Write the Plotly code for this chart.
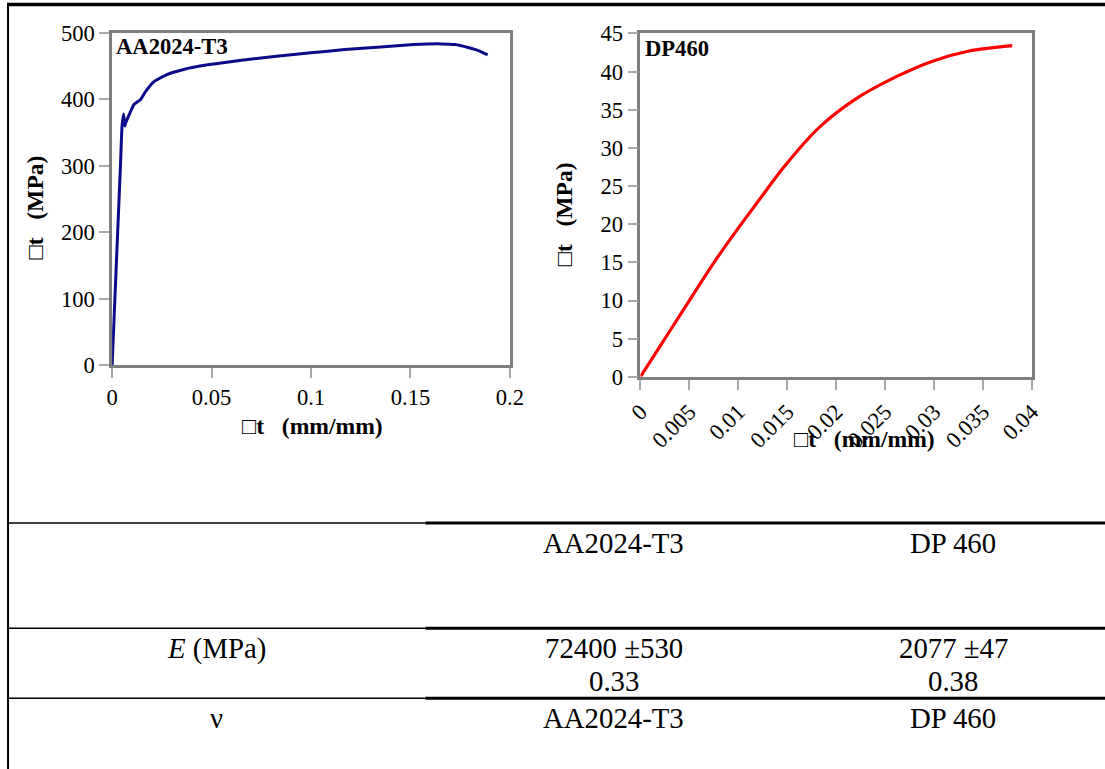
import plotly.graph_objects as go

# The photographed page shows the figure shrunk slightly and offset; these
# constants map target screen pixels back to figure pixels.
SX, SY = 0.979, 0.967
OX, OY = 12.0, 11.6
W = int(round((1105 - OX) / SX)) + 2
H = int(round((769 - OY) / SY)) + 2
FS = 1.0 / 0.973  # font compensation

# ---------------- data ----------------
aa_strain = [0, 0.0014, 0.0028, 0.0042, 0.0050, 0.0058, 0.0064, 0.0070, 0.0086, 0.0109,
             0.0143, 0.0169, 0.0212, 0.0273, 0.0359, 0.048, 0.065, 0.0826, 0.100, 0.117,
             0.135, 0.1516, 0.1655, 0.1724, 0.179, 0.1845, 0.1888]
aa_stress = [0, 100, 200, 300, 360, 378, 360, 366, 377, 392,
             400, 412, 427, 437, 445, 452, 459, 465, 470, 475,
             479, 482.5, 483.5, 482.5, 478, 473, 467]

dp_strain = [0, 0.002, 0.004, 0.0058, 0.00758, 0.00978, 0.01198, 0.01454, 0.0182,
             0.02187, 0.02626, 0.02993, 0.0336, 0.038]
dp_stress = [0, 4.0, 8.0, 11.6, 15.1, 19.1, 22.9, 27.3, 32.6,
             36.3, 39.4, 41.4, 42.7, 43.4]

aa_xticks = [0, 0.05, 0.1, 0.15, 0.2]
aa_xticklabels = ["0", "0.05", "0.1", "0.15", "0.2"]
aa_yticks = [0, 100, 200, 300, 400, 500]
dp_xticks = [0, 0.005, 0.01, 0.015, 0.02, 0.025, 0.03, 0.035, 0.04]
dp_xticklabels = ["0", "0.005", "0.01", "0.015", "0.02", "0.025", "0.03", "0.035", "0.04"]
dp_yticks = [0, 5, 10, 15, 20, 25, 30, 35, 40, 45]

label_aa = "AA2024-T3"
label_dp = "DP460"
ytitle = "\u25a1t\u00a0\u00a0 (MPa)"
xtitle = "\u25a1t\u00a0\u00a0 (mm/mm)"

table_header = ["", "AA2024-T3", "DP 460"]
table_row_e = ["<i>E</i> (MPa)", "72400 \u00b1530", "2077 \u00b147"]
table_row_e2 = ["", "0.33", "0.38"]
table_row_nu = ["\u03bd", "AA2024-T3", "DP 460"]

# ---------------- helpers (target screen pixels -> paper) ----------------
def px(x):
    return ((x - OX) / SX) / W

def py(y):
    return 1 - ((y - OY) / SY) / H

def fs(s):
    return round(s * FS, 1)

SERIF = "Liberation Serif"

fig = go.Figure()
fig.add_trace(go.Scatter(x=aa_strain, y=aa_stress, mode="lines",
                         line=dict(color="#0b0b8a", width=3, shape="spline", smoothing=0.4),
                         xaxis="x", yaxis="y", showlegend=False, hoverinfo="skip"))
fig.add_trace(go.Scatter(x=dp_strain, y=dp_stress, mode="lines",
                         line=dict(color="#ff0000", width=3.2, shape="spline", smoothing=0.8),
                         xaxis="x2", yaxis="y2", showlegend=False, hoverinfo="skip"))

axis_common = dict(showline=True, mirror=True, linecolor="#7f7f7f", linewidth=2.5,
                   showgrid=False, zeroline=False, ticks="outside", ticklen=10,
                   tickwidth=1.5, tickcolor="#a8a8a8",
                   tickfont=dict(family=SERIF, size=fs(22), color="black"))

fig.update_layout(
    width=W, height=H,
    margin=dict(l=0, r=0, t=0, b=0),
    paper_bgcolor="white", plot_bgcolor="white",
    font=dict(family=SERIF, color="black"),
    xaxis=dict(domain=[px(110.5), px(510)], range=[0, 0.2], anchor="y",
               tickvals=aa_xticks, ticktext=aa_xticklabels, **axis_common),
    yaxis=dict(domain=[py(364.5), py(32.5)], range=[0, 500], anchor="x",
               tickvals=aa_yticks, **axis_common),
    xaxis2=dict(domain=[px(641), px(1034)], range=[0, 0.04], anchor="y2",
                tickvals=dp_xticks, ticktext=dp_xticklabels, tickangle=-45, **axis_common),
    yaxis2=dict(domain=[py(376), py(33)], range=[0, 45], anchor="x2",
                tickvals=dp_yticks, **axis_common),
)

ann = []
bold_font = dict(family=SERIF, size=fs(23), color="black")
ann.append(dict(x=px(112), y=py(32), xref="paper", yref="paper", xanchor="left", yanchor="top",
                text="<b>%s</b>" % label_aa, showarrow=False, font=dict(family=SERIF, size=fs(22), color="black")))
ann.append(dict(x=px(644), y=py(34), xref="paper", yref="paper", xanchor="left", yanchor="top",
                text="<b>%s</b>" % label_dp, showarrow=False, font=dict(family=SERIF, size=fs(22), color="black")))
ann.append(dict(x=px(33), y=py(207), xref="paper", yref="paper", xanchor="center", yanchor="middle",
                text="<b>%s</b>" % ytitle, textangle=-90, showarrow=False, font=bold_font))
ann.append(dict(x=px(564), y=py(214), xref="paper", yref="paper", xanchor="center", yanchor="middle",
                text="<b>%s</b>" % ytitle, textangle=-90, showarrow=False, font=bold_font))
ann.append(dict(x=px(312), y=py(425), xref="paper", yref="paper", xanchor="center", yanchor="middle",
                text="<b>%s</b>" % xtitle, showarrow=False, font=bold_font))
ann.append(dict(x=px(866), y=py(438), xref="paper", yref="paper", xanchor="center", yanchor="middle",
                text="<b>%s</b>" % xtitle, showarrow=False, font=bold_font))

col_x = [215, 614, 955]
tfont = dict(family=SERIF, size=fs(28), color="black")
for row, yc in [(table_header, 542), (table_row_e, 647), (table_row_e2, 680), (table_row_nu, 717)]:
    for cx, t in zip(col_x, row):
        if t:
            ann.append(dict(x=px(cx), y=py(yc), xref="paper", yref="paper", xanchor="center",
                            yanchor="middle", text=t, showarrow=False, font=tfont))
fig.update_layout(annotations=ann)

shapes = []
shapes.append(dict(type="line", xref="paper", yref="paper", x0=px(5), x1=px(1110), y0=py(4), y1=py(4),
                   line=dict(color="black", width=3.5)))
shapes.append(dict(type="line", xref="paper", yref="paper", x0=px(6), x1=px(6), y0=py(3), y1=py(775),
                   line=dict(color="black", width=2)))
for yl in [522, 627, 697]:
    shapes.append(dict(type="line", xref="paper", yref="paper", x0=px(6), x1=px(425), y0=py(yl), y1=py(yl),
                       line=dict(color="black", width=1.5)))
    shapes.append(dict(type="line", xref="paper", yref="paper", x0=px(425), x1=px(1110), y0=py(yl), y1=py(yl),
                       line=dict(color="black", width=3)))
fig.update_layout(shapes=shapes)

fig.write_html("out.html", config={"displayModeBar": False},
               post_script="document.body.style.margin='0';document.body.style.padding='0';"
                           "document.body.style.overflow='hidden';"
                           "document.documentElement.style.overflow='hidden';")
